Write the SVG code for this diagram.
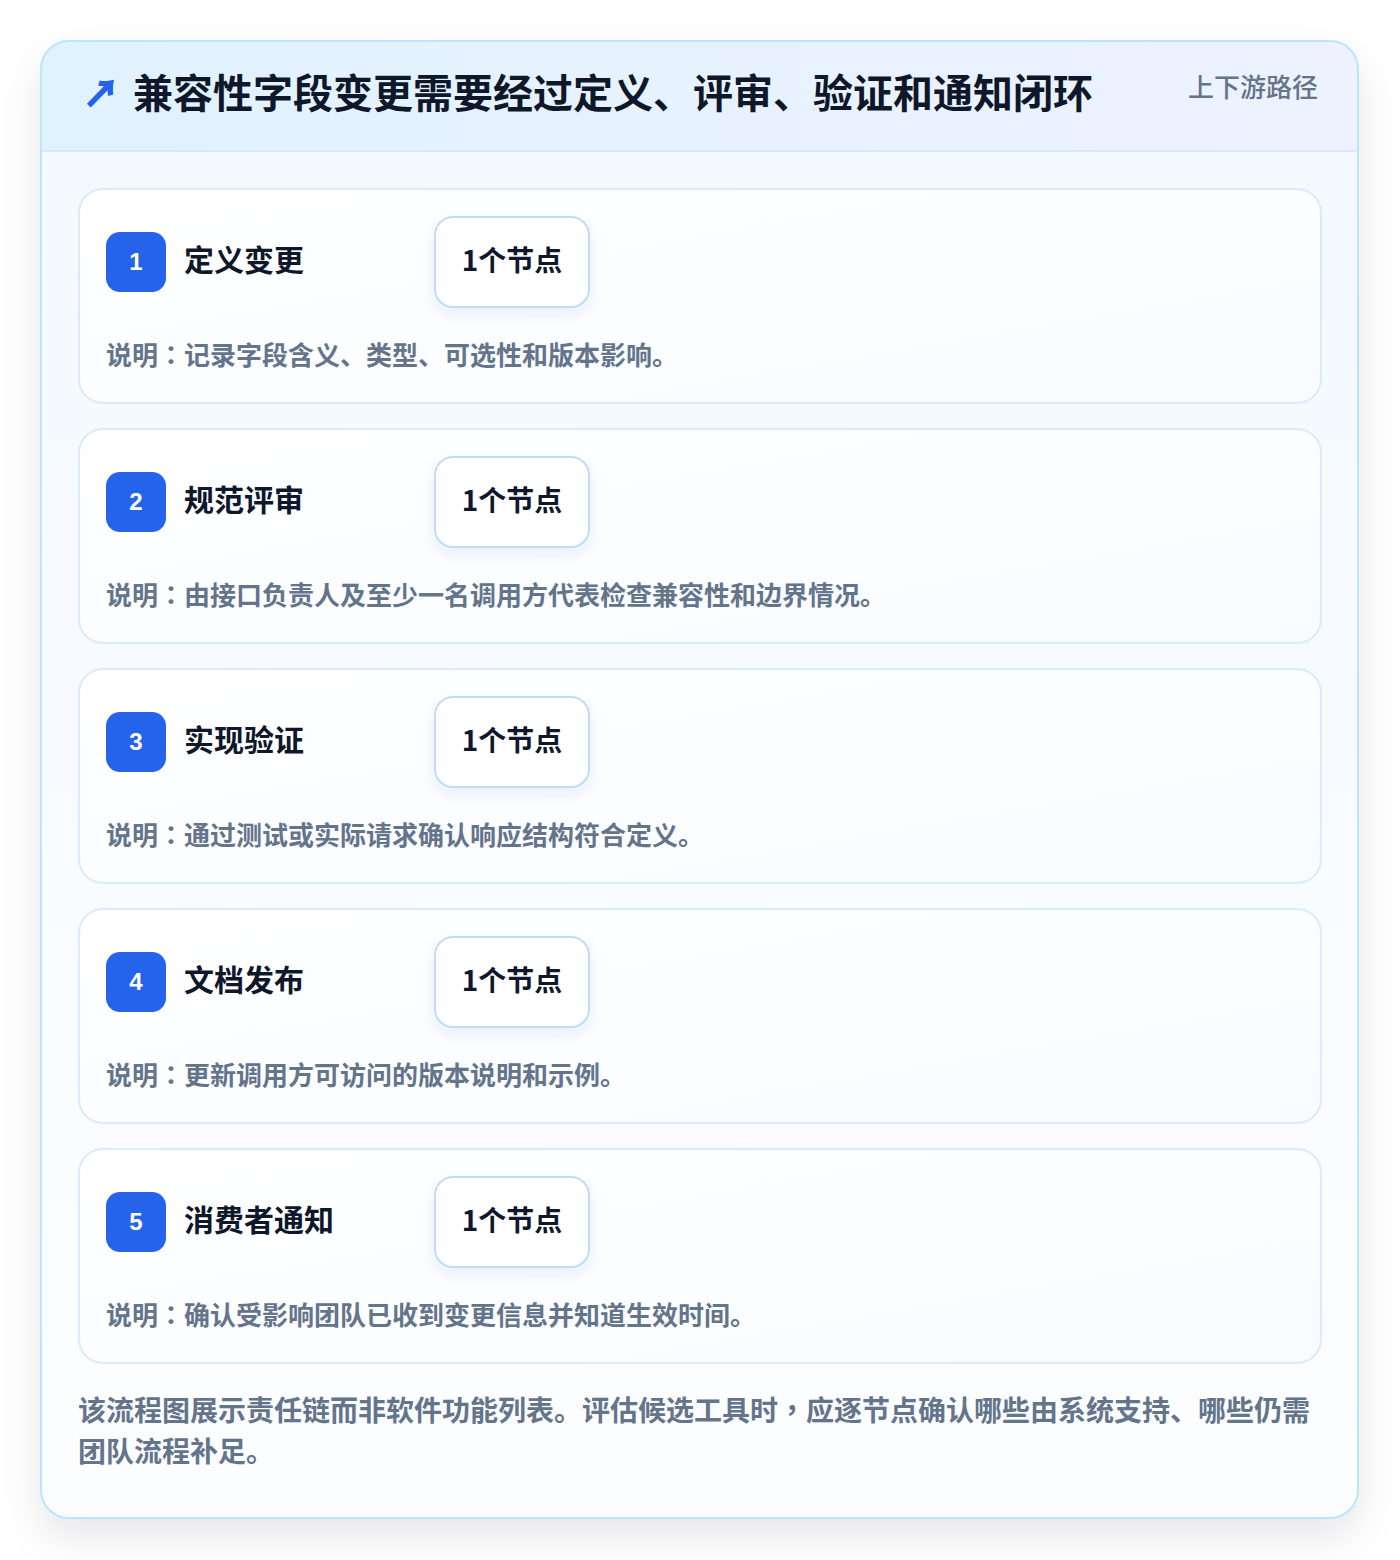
<svg xmlns="http://www.w3.org/2000/svg" width="1400" height="1560" viewBox="0 0 1400 1560">
<defs>
<linearGradient id="hdr" x1="0" y1="0" x2="1" y2="0"><stop offset="0" stop-color="#e0f2fe"/><stop offset="1" stop-color="#eef2ff"/></linearGradient>
<linearGradient id="body" x1="0" y1="0" x2="0" y2="1"><stop offset="0" stop-color="#f3f9ff"/><stop offset="1" stop-color="#fcfdff"/></linearGradient>
<linearGradient id="step" x1="0" y1="0" x2="1" y2="1"><stop offset="0" stop-color="#ffffff"/><stop offset="1" stop-color="#f8fbff"/></linearGradient>
<filter id="sh" x="-10%" y="-10%" width="120%" height="120%"><feDropShadow dx="0" dy="18" stdDeviation="20" flood-color="#0f172a" flood-opacity="0.10"/></filter>
<filter id="psh" x="-20%" y="-20%" width="140%" height="160%"><feDropShadow dx="0" dy="6" stdDeviation="7" flood-color="#1e3a8a" flood-opacity="0.08"/></filter>
<clipPath id="cc"><rect x="41" y="41" width="1317" height="1477" rx="28"/></clipPath>
</defs>
<style>
text{font-family:"Noto Sans CJK SC","Liberation Sans",sans-serif}
.p{font-family:"Noto Sans CJK TC",sans-serif}
.stepcard{fill:url(#step);stroke:#dbeafe;stroke-width:2}
.badge{fill:#2563eb}
.bnum{fill:#ffffff;font-family:"Liberation Sans","Noto Sans CJK SC",sans-serif;font-size:24px;font-weight:700;text-anchor:middle}
.stitle{fill:#0f172a;font-size:30px;font-weight:700}
.pill{fill:#ffffff;stroke:#bfdbfe;stroke-width:2}
.ptext{fill:#0f172a;font-size:28px;font-weight:700;text-anchor:middle}
.desc{fill:#64748b;font-size:26px;font-weight:600}
.foot{fill:#64748b;font-size:28px;font-weight:600}
</style>
<rect width="1400" height="1560" fill="#ffffff"/>
<g id="card">
<rect x="41" y="41" width="1317" height="1477" rx="28" fill="url(#body)" filter="url(#sh)"/>
<g clip-path="url(#cc)">
<rect x="41" y="41" width="1317" height="110" fill="url(#hdr)"/>
<line x1="41" y1="151" x2="1358" y2="151" stroke="#d6e9fb" stroke-width="2"/>
</g>
<rect x="41" y="41" width="1317" height="1477" rx="28" fill="none" stroke="#bae6fd" stroke-width="2"/>
</g>
<g id="header">
<text x="83" y="107" font-size="36" font-weight="700" fill="#2563eb" stroke="#2563eb" stroke-width="1.6" font-family="DejaVu Sans,sans-serif">↗</text>
<text x="133" y="108" font-size="40" font-weight="700" fill="#0f172a">兼容性字段变更需要经过定义、评审、验证和通知闭环</text>
<text x="1318" y="97" font-size="26" font-weight="500" fill="#64748b" text-anchor="end">上下游路径</text>
</g>
<g id="connectors"/>
<g id="step1">
<rect class="stepcard" x="79" y="189" width="1242" height="214" rx="24"/>
<rect class="badge" x="106" y="232" width="60" height="60" rx="14"/>
<text class="bnum" x="136" y="270">1</text>
<text class="stitle" x="184" y="271">定义变更</text>
<rect class="pill" x="435" y="217" width="154" height="90" rx="18" filter="url(#psh)"/>
<text class="ptext" x="512" y="271">1个节点</text>
<text class="desc" x="106" y="365">说明<tspan class="p">：</tspan>记录字段含义、类型、可选性和版本影响。</text>
</g>
<g id="step2">
<rect class="stepcard" x="79" y="429" width="1242" height="214" rx="24"/>
<rect class="badge" x="106" y="472" width="60" height="60" rx="14"/>
<text class="bnum" x="136" y="510">2</text>
<text class="stitle" x="184" y="511">规范评审</text>
<rect class="pill" x="435" y="457" width="154" height="90" rx="18" filter="url(#psh)"/>
<text class="ptext" x="512" y="511">1个节点</text>
<text class="desc" x="106" y="605">说明<tspan class="p">：</tspan>由接口负责人及至少一名调用方代表检查兼容性和边界情况。</text>
</g>
<g id="step3">
<rect class="stepcard" x="79" y="669" width="1242" height="214" rx="24"/>
<rect class="badge" x="106" y="712" width="60" height="60" rx="14"/>
<text class="bnum" x="136" y="750">3</text>
<text class="stitle" x="184" y="751">实现验证</text>
<rect class="pill" x="435" y="697" width="154" height="90" rx="18" filter="url(#psh)"/>
<text class="ptext" x="512" y="751">1个节点</text>
<text class="desc" x="106" y="845">说明<tspan class="p">：</tspan>通过测试或实际请求确认响应结构符合定义。</text>
</g>
<g id="step4">
<rect class="stepcard" x="79" y="909" width="1242" height="214" rx="24"/>
<rect class="badge" x="106" y="952" width="60" height="60" rx="14"/>
<text class="bnum" x="136" y="990">4</text>
<text class="stitle" x="184" y="991">文档发布</text>
<rect class="pill" x="435" y="937" width="154" height="90" rx="18" filter="url(#psh)"/>
<text class="ptext" x="512" y="991">1个节点</text>
<text class="desc" x="106" y="1085">说明<tspan class="p">：</tspan>更新调用方可访问的版本说明和示例。</text>
</g>
<g id="step5">
<rect class="stepcard" x="79" y="1149" width="1242" height="214" rx="24"/>
<rect class="badge" x="106" y="1192" width="60" height="60" rx="14"/>
<text class="bnum" x="136" y="1230">5</text>
<text class="stitle" x="184" y="1231">消费者通知</text>
<rect class="pill" x="435" y="1177" width="154" height="90" rx="18" filter="url(#psh)"/>
<text class="ptext" x="512" y="1231">1个节点</text>
<text class="desc" x="106" y="1325">说明<tspan class="p">：</tspan>确认受影响团队已收到变更信息并知道生效时间。</text>
</g>
<g id="footer">
<text class="foot" x="78" y="1421">该流程图展示责任链而非软件功能列表。评估候选工具时<tspan class="p">，</tspan>应逐节点确认哪些由系统支持、哪些仍需</text>
<text class="foot" x="78" y="1462">团队流程补足。</text>
</g>
</svg>
